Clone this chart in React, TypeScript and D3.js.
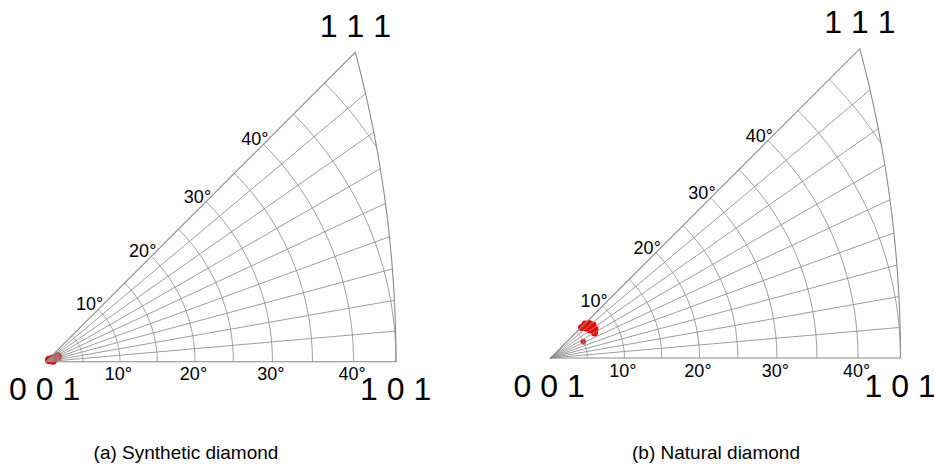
import React from "react";
import * as d3 from "d3";

// ---- data (polar angle theta from [001], azimuth phi from [100], degrees) ----
const panelCaptions = ["(a) Synthetic diamond", "(b) Natural diamond"];
const synthTheta = [0.47, 0.89, 1.32, 1.77, 0.96];
const synthPhi = [29.5, 24.2, 22.3, 23.4, 9.7];
const naturalTheta = [5.89, 6.56, 7.0, 7.29, 7.2, 6.86, 6.56, 6.3, 4.96];
const naturalPhi = [44.5, 44.6, 41.9, 37.8, 33.1, 29.6, 35.3, 40.2, 26.4];
const naturalSize = [3.5, 3.5, 3.5, 3.5, 3.5, 3.5, 3.5, 3.5, 2.8];
const angleTicks = [10, 20, 30, 40];
const polarGrid = [5, 10, 15, 20, 25, 30, 35, 40, 45, 50];
const azimuthGrid = [5, 10, 15, 20, 25, 30, 35, 40];
const cornerLabels = ["0 0 1", "1 0 1", "1 1 1"];

const W = 934;
const H = 474;
const L = 350;
const rad = Math.PI / 180;
const rScale = d3.scaleLinear().domain([0, Math.tan(Math.PI / 8)]).range([0, L]);

type Origin = { x: number; y: number };

function proj(o: Origin, thetaDeg: number, phiDeg: number): [number, number] {
  const r = rScale(Math.tan((thetaDeg * rad) / 2));
  return [o.x + r * Math.cos(phiDeg * rad), o.y - r * Math.sin(phiDeg * rad)];
}
const edgeTheta = (phi: number) => Math.atan(1 / Math.cos(phi * rad)) / rad;

const line = d3.line<[number, number]>();

function Panel({ o, caption, capX, thetas, phis, sizes }: { o: Origin; caption: string; capX: number; thetas: number[]; phis: number[]; sizes: number[] }) {
  const phiSteps = d3.range(0, 45.001, 0.5);
  const edge = phiSteps.map((p) => proj(o, edgeTheta(p), p));
  const boundary = [proj(o, 0, 0), proj(o, 45, 0), ...edge, proj(o, 0, 45)];
  const top = proj(o, edgeTheta(45), 45);
  const right = proj(o, 45, 0);
  const arcs = polarGrid.map((t) => {
    const pmin = t > 45 ? Math.acos(1 / Math.tan(t * rad)) / rad : 0;
    const steps = d3.range(pmin, 45.0001, (45 - pmin) / 60);
    return steps.map((p) => proj(o, t, p));
  });
  const spokes = azimuthGrid.map((p) => [proj(o, 0, p), proj(o, edgeTheta(p), p)] as [number, number][]);
  const font = "'Liberation Sans', Arial, sans-serif";
  return (
    <g>
      {thetas.map((t, i) => {
        const [x, y] = proj(o, t, phis[i]);
        return <circle key={i} cx={x} cy={y} r={sizes[i]} fill="#ff0000" />;
      })}
      {arcs.map((a, i) => (
        <path key={"a" + i} d={line(a) || ""} fill="none" stroke="#929292" strokeWidth={0.9} />
      ))}
      {spokes.map((s, i) => (
        <path key={"s" + i} d={line(s) || ""} fill="none" stroke="#929292" strokeWidth={0.9} />
      ))}
      <path d={(line(boundary) || "") + "Z"} fill="none" stroke="#8a8a8a" strokeWidth={1.1} />
      {angleTicks.map((t) => {
        const [x, y] = proj(o, t, 0);
        return (
          <text key={"b" + t} x={x - 1.5} y={y + 18.5} textAnchor="middle" fontSize={18} fontFamily={font} fill="#000">
            {t}°
          </text>
        );
      })}
      {angleTicks.map((t) => {
        const [x, y] = proj(o, t, 45);
        return (
          <text key={"d" + t} x={x + 5} y={y + 1} textAnchor="end" fontSize={18} fontFamily={font} fill="#000">
            {t}°
          </text>
        );
      })}
      <text x={o.x - 37} y={o.y + 38.5} fontSize={32} fontFamily={font} fill="#000">{cornerLabels[0]}</text>
      <text x={right[0] - 36} y={right[1] + 38.5} fontSize={32} fontFamily={font} fill="#000">{cornerLabels[1]}</text>
      <text x={top[0] - 35.5} y={top[1] - 15.5} fontSize={32} fontFamily={font} fill="#000">{cornerLabels[2]}</text>
      <text x={capX} y={459} textAnchor="middle" fontSize={19} fontFamily={font} fill="#000">{caption}</text>
    </g>
  );
}

export default function App() {
  return (
    <svg width={W} height={H} style={{ position: "absolute", left: 0, top: 0, background: "#fff" }}>
      <rect width={W} height={H} fill="#fff" />
      <Panel o={{ x: 46, y: 361.7 }} caption={panelCaptions[0]} capX={186} thetas={synthTheta} phis={synthPhi} sizes={synthTheta.map(() => 4.2)} />
      <Panel o={{ x: 550.5, y: 358 }} caption={panelCaptions[1]} capX={716} thetas={naturalTheta} phis={naturalPhi} sizes={naturalSize} />
    </svg>
  );
}
